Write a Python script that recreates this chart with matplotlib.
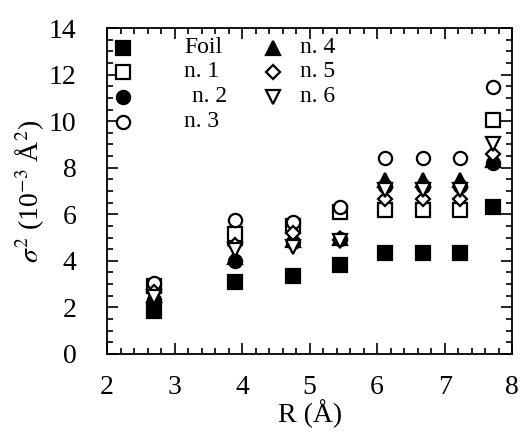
import matplotlib
matplotlib.use("Agg")
import matplotlib.pyplot as plt
from matplotlib.ticker import MultipleLocator

plt.rcParams['font.family'] = ['Liberation Serif', 'DejaVu Serif']
plt.rcParams['mathtext.fontset'] = 'stix'

R = [2.7, 3.9, 4.75, 5.45, 6.12, 6.68, 7.23, 7.72]
foil = [1.85, 3.1, 3.35, 3.8, 4.35, 4.35, 4.35, 6.3]
n1 = [2.9, 5.15, 5.5, 6.1, 6.2, 6.2, 6.2, 10.05]
n2 = [2.3, 4.0, 4.8, 4.95, 7.2, 7.2, 7.2, 8.2]
n3 = [3.05, 5.75, 5.65, 6.3, 8.4, 8.4, 8.4, 11.45]
n4 = [2.55, 4.15, 4.9, 5.0, 7.45, 7.45, 7.45, 8.35]
n5 = [2.65, 4.7, 5.2, 4.9, 6.65, 6.65, 6.65, 8.6]
n6 = [2.45, 4.45, 4.6, 4.85, 7.05, 7.05, 7.05, 9.0]

labels = ['Foil', 'n. 1', 'n. 2', 'n. 3', 'n. 4', 'n. 5', 'n. 6']
series = [foil, n1, n2, n3, n4, n5, n6]
markers = ['s', 's', 'o', 'o', '^', 'D', 'v']
filled = [True, False, True, False, True, False, False]
sizes = [9.5, 9.5, 9.5, 9.5, 9.5, 7.5, 9.5]

fig = plt.figure(figsize=(5.2, 4.38), dpi=100)
ax = fig.add_axes([0.206, 0.192, 0.779, 0.744])

for y, m, f, s in zip(series, markers, filled, sizes):
    ax.plot(R, y, linestyle='none', marker=m, markersize=s,
            markerfacecolor='black' if f else 'white',
            markeredgecolor='black', markeredgewidth=1.6)

# manual legend (axes coordinates)
rows = [0.94, 0.866, 0.789, 0.712]
col_marker = [0.04, 0.41]
col_text = [0.19, 0.475]
for i, (lab, m, f, s) in enumerate(zip(labels, markers, filled, sizes)):
    c = 0 if i < 4 else 1
    r = rows[i] if i < 4 else rows[i - 4]
    ax.plot([col_marker[c]], [r], transform=ax.transAxes, linestyle='none',
            marker=m, markersize=s, markerfacecolor='black' if f else 'white',
            markeredgecolor='black', markeredgewidth=1.6, clip_on=False)
    dx = 0.02 if lab == 'n. 2' else 0.0
    ax.text(col_text[c] + dx, r, lab, transform=ax.transAxes, fontsize=17,
            va='center', ha='left')

ax.set_xlim(2, 8)
ax.set_ylim(0, 14)
ax.xaxis.set_major_locator(MultipleLocator(1))
ax.xaxis.set_minor_locator(MultipleLocator(0.2))
ax.yaxis.set_major_locator(MultipleLocator(2))
ax.yaxis.set_minor_locator(MultipleLocator(0.5))
ax.tick_params(which='both', direction='in', top=True, right=True, width=1.2)
ax.tick_params(which='major', length=8, labelsize=20)
ax.tick_params(which='minor', length=4)
ax.tick_params(axis='x', which='major', pad=15)
ax.tick_params(axis='y', which='major', pad=22)
for sp in ax.spines.values():
    sp.set_linewidth(1.3)

ax.set_xlabel('R (Å)', fontsize=20, labelpad=0)
ax.set_ylabel(r'$\sigma^2$ (10$^{-3}$ Å$^2$)', fontsize=20, labelpad=2)

fig.savefig('out.png', dpi=100)
